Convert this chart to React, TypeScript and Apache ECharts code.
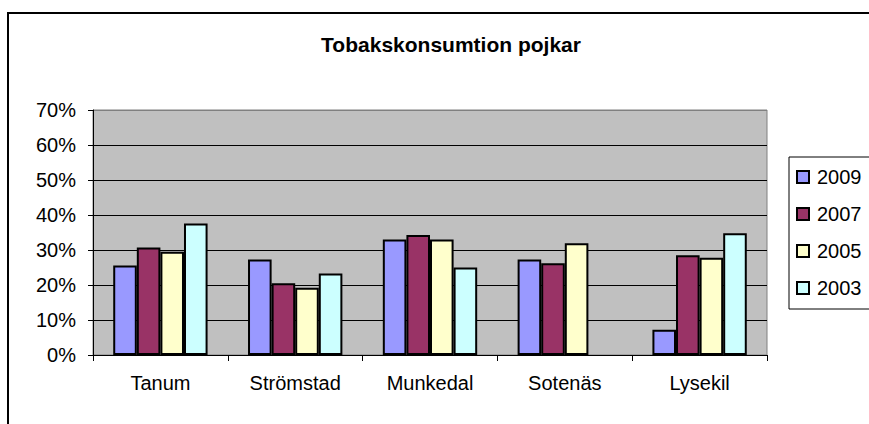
import React, { useEffect, useRef } from "react";
import * as echarts from "echarts";

const categories = ["Tanum", "Strömstad", "Munkedal", "Sotenäs", "Lysekil"];
const seriesNames = ["2009", "2007", "2005", "2003"];
const values2009 = [0.256, 0.273, 0.33, 0.273, 0.072];
const values2007 = [0.307, 0.205, 0.343, 0.262, 0.285];
const values2005 = [0.295, 0.192, 0.33, 0.319, 0.278];
const values2003 = [0.376, 0.233, 0.25, null, 0.348];
const seriesColors = ["#9999FF", "#993366", "#FFFFCC", "#CCFFFF"];
const titleText = "Tobakskonsumtion pojkar";

export default function App() {
  const ref = useRef<HTMLDivElement>(null);
  useEffect(() => {
    if (!ref.current) return;
    const chart = echarts.init(ref.current, null, { renderer: "svg" });
    const font = "'Liberation Sans', Arial, sans-serif";
    const allValues = [values2009, values2007, values2005, values2003];
    chart.setOption({
      animation: false,
      backgroundColor: "#FFFFFF",
      textStyle: { fontFamily: font, color: "#000" },
      title: {
        text: titleText,
        left: 446,
        top: 29,
        textAlign: "center",
        textStyle: { fontFamily: font, fontSize: 21, fontWeight: "bold", color: "#000" },
      },
      graphic: [
        {
          type: "rect",
          shape: { x: 8, y: 13, width: 900, height: 500 },
          style: { fill: "none", stroke: "#000", lineWidth: 2 },
          silent: true,
          z: 100,
        },
      ],
      legend: {
        orient: "vertical",
        left: 789,
        top: 157,
        data: seriesNames,
        backgroundColor: "#FFFFFF",
        borderColor: "#000",
        borderWidth: 1,
        padding: [10, 40, 11, 7],
        itemGap: 17,
        itemWidth: 12,
        itemHeight: 12,
        icon: "rect",
        textStyle: { fontFamily: font, fontSize: 20, color: "#000", padding: [0, 0, 0, 3] },
      },
      grid: {
        left: 93,
        right: 102,
        top: 110,
        bottom: 69,
        show: true,
        backgroundColor: "#C0C0C0",
        borderColor: "#808080",
        borderWidth: 1,
      },
      xAxis: {
        type: "category",
        data: categories,
        axisLine: { show: true, lineStyle: { color: "#000", width: 1 } },
        axisTick: { show: true, length: 6, lineStyle: { color: "#000" } },
        axisLabel: { fontFamily: font, fontSize: 20, color: "#000", margin: 18 },
      },
      yAxis: {
        type: "value",
        min: 0,
        max: 0.7,
        interval: 0.1,
        axisLine: { show: true, lineStyle: { color: "#000", width: 1 } },
        axisTick: { show: true, length: 5, lineStyle: { color: "#000" } },
        axisLabel: {
          fontFamily: font,
          fontSize: 20,
          color: "#000",
          margin: 17,
          formatter: (v: number) => Math.round(v * 100) + "%",
        },
        splitLine: {
          show: true,
          lineStyle: {
            color: ["#000", "#000", "#000", "#000", "#000", "#000", "#000", "#808080"],
            width: 1,
          },
        },
      },
      series: seriesNames.map((name, i) => ({
        name,
        type: "bar",
        data: allValues[i],
        barGap: "0%",
        barCategoryGap: "30%",
        itemStyle: { color: seriesColors[i], borderColor: "#000", borderWidth: 2 },
      })),
    });
    return () => chart.dispose();
  }, []);
  return (
    <div
      ref={ref}
      style={{ position: "fixed", left: 0, top: 0, width: 869, height: 424, background: "#fff" }}
    />
  );
}
